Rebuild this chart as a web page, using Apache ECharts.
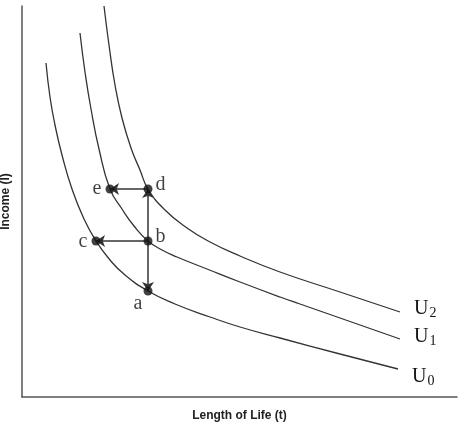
<!DOCTYPE html>
<html>
<head>
<meta charset="utf-8">
<script src="https://cdn.jsdelivr.net/npm/echarts@6/dist/echarts.min.js"></script>
<style>html,body{margin:0;padding:0;background:#fff}#c{width:459px;height:426px}</style>
</head>
<body>
<div id="c"></div>
<script>
// Indifference curves (Length of Life t, Income I), arbitrary units
const curveU0 = [[24,334],[28,300],[33,272],[40,242],[50,208],[62,178],[74,156],[88,137],[103,122],[126,106],[153,93],[188,80],[218,70],[258,59],[318,43],[376,28]];
const curveU1 = [[58,364],[63,325],[69,288],[77,248],[88,208],[100,188],[112,171],[126,156],[140,147],[155,140],[185,128],[218,115],[258,100],[278,93],[318,79],[378,58]];
const curveU2 = [[82,391],[87,352],[93,312],[100,279],[109,249],[118,227],[126,208],[143,187],[165,169],[188,155],[218,141],[258,125],[318,105],[378,85]];
const curveNames = ['0', '1', '2'];
// Labelled points
const pointNames = ['a', 'b', 'c', 'd', 'e'];
const pointT = [126, 126, 74, 126, 88];
const pointI = [106, 156, 156, 208, 208];
// Arrows (from -> to) by point name
const arrows = [['b','d'],['b','a'],['b','c'],['d','e']];
const xTitle = 'Length of Life (t)';
const yTitle = 'Income (I)';

const pt = n => { const i = pointNames.indexOf(n); return [pointT[i], pointI[i]]; };
const labelPos = {
  a: {position: 'bottom', distance: 0, offset: [-10, -2]},
  b: {position: 'right', distance: 3, offset: [0, -4]},
  c: {position: 'left', distance: 4, offset: [0, 1]},
  d: {position: 'right', distance: 3, offset: [0, -4]},
  e: {position: 'left', distance: 4, offset: [0, 0]}
};
const endOffsets = [[8, 8], [8, -2], [8, -3]];
const serif = '"Liberation Serif", "Times New Roman", serif';

const chart = echarts.init(document.getElementById('c'));
const curveSeries = [curveU0, curveU1, curveU2].map((d, k) => ({
  type: 'line', data: d, smooth: 0.5, showSymbol: false, symbol: 'none',
  lineStyle: {color: '#333', width: 1.3}, z: 2, silent: true,
  endLabel: {
    show: true, distance: 6, offset: endOffsets[k],
    formatter: '{u|U}{s|' + curveNames[k] + '}',
    rich: {
      u: {fontFamily: serif, fontSize: 20, color: '#111', verticalAlign: 'middle'},
      s: {fontFamily: serif, fontSize: 14, color: '#111', padding: [8, 0, 0, 1], verticalAlign: 'middle'}
    }
  }
}));

chart.setOption({
  animation: false,
  grid: {left: 22, right: 2, top: 6, bottom: 29, containLabel: false, outerBoundsMode: 'none'},
  xAxis: {
    type: 'value', min: 0, max: 435,
    axisLine: {show: true, onZero: false, lineStyle: {color: '#555', width: 1.5}},
    axisTick: {show: false}, axisLabel: {show: false}, splitLine: {show: false},
    name: xTitle, nameLocation: 'middle', nameGap: 13,
    nameTextStyle: {fontFamily: '"Liberation Sans", Arial, sans-serif', fontWeight: 'bold', fontSize: 12, color: '#222'}
  },
  yAxis: {
    type: 'value', min: 0, max: 391,
    axisLine: {show: true, onZero: false, lineStyle: {color: '#555', width: 1.5}},
    axisTick: {show: false}, axisLabel: {show: false}, splitLine: {show: false},
    name: yTitle, nameLocation: 'middle', nameGap: 10,
    nameTextStyle: {fontFamily: '"Liberation Sans", Arial, sans-serif', fontWeight: 'bold', fontSize: 12, color: '#222'}
  },
  series: curveSeries.concat([
    {
      type: 'lines', coordinateSystem: 'cartesian2d', z: 3, silent: true,
      symbol: ['none', 'arrow'], symbolSize: 9,
      lineStyle: {color: '#333', width: 1.5, opacity: 1},
      data: arrows.map(([f, t]) => ({coords: [pt(f), pt(t)]}))
    },
    {
      type: 'scatter', z: 5, silent: true, symbolSize: 9,
      itemStyle: {color: '#111'},
      data: pointNames.map((n, i) => ({
        value: [pointT[i], pointI[i]],
        label: Object.assign({show: true, formatter: n, fontFamily: serif, fontSize: 20, color: '#111'}, labelPos[n])
      }))
    }
  ])
});
</script>
</body>
</html>
